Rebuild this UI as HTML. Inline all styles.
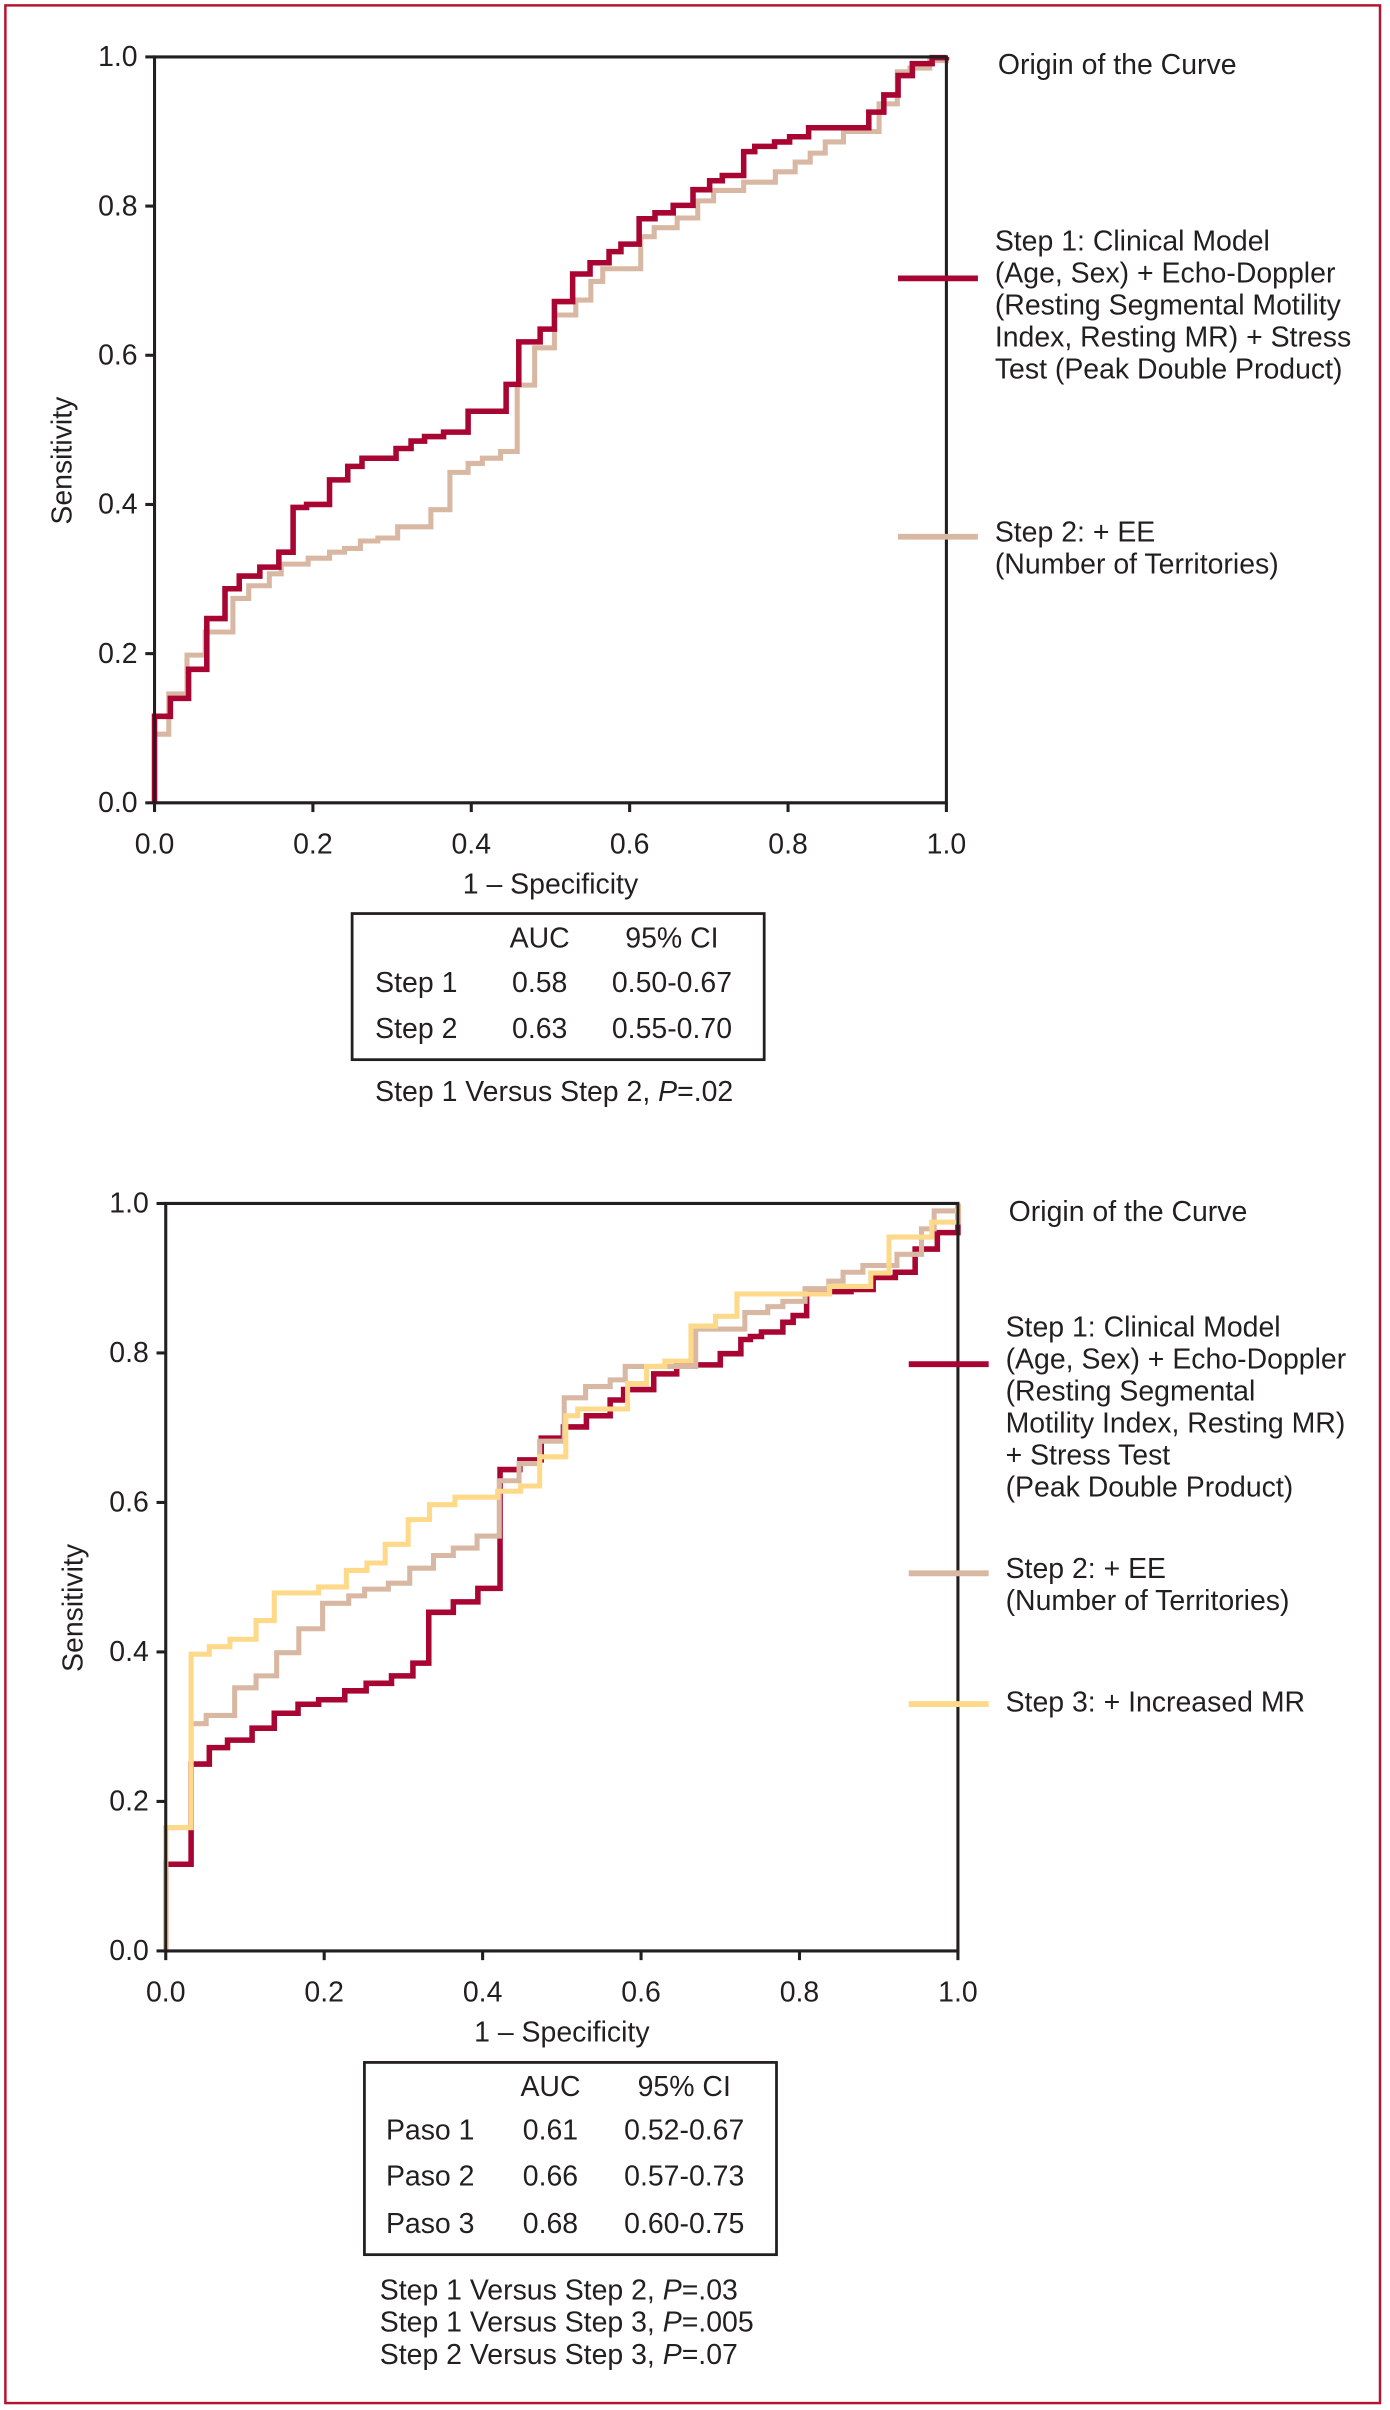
<!DOCTYPE html>
<html><head><meta charset="utf-8"><style>
html,body{margin:0;padding:0;background:#fff}
svg{display:block}
text{font-family:"Liberation Sans Narrow","Liberation Sans",sans-serif;fill:#231f20;font-size:18.5px}
</style></head><body>
<svg id="fig" width="1390" height="2410" viewBox="0 0 904 1567" preserveAspectRatio="none" xmlns="http://www.w3.org/2000/svg">
<rect x="3.5" y="3.5" width="894" height="1559" fill="none" stroke="#b5142e" stroke-width="1.6"/>
<g id="top"></g>
<g id="bot"></g>

<!-- top legend -->
<g>
<text x="649" y="48">Origin of the Curve</text>
<line x1="584" y1="181" x2="636" y2="181" stroke="#a80532" stroke-width="3.8"/>
<text x="647" y="163">
<tspan x="647" dy="0">Step 1: Clinical Model</tspan><tspan x="647" dy="20.8">(Age, Sex) + Echo-Doppler</tspan><tspan x="647" dy="20.8">(Resting Segmental Motility</tspan><tspan x="647" dy="20.8">Index, Resting MR) + Stress</tspan><tspan x="647" dy="20.8">Test (Peak Double Product)</tspan></text>
<line x1="584" y1="349" x2="636" y2="349" stroke="#d9b8a3" stroke-width="3.8"/>
<text x="647" y="352"><tspan x="647" dy="0">Step 2: + EE</tspan><tspan x="647" dy="20.8">(Number of Territories)</tspan></text>
</g>
<g>
<rect x="229" y="594" width="268" height="95" fill="none" stroke="#231f20" stroke-width="1.8"/>
<text x="351" y="616" text-anchor="middle">AUC</text><text x="437" y="616" text-anchor="middle">95% CI</text>
<text x="244" y="645">Step 1</text><text x="351" y="645" text-anchor="middle">0.58</text><text x="437" y="645" text-anchor="middle">0.50-0.67</text>
<text x="244" y="675">Step 2</text><text x="351" y="675" text-anchor="middle">0.63</text><text x="437" y="675" text-anchor="middle">0.55-0.70</text>
</g>
<text x="244" y="716">Step 1 Versus Step 2, <tspan font-style="italic">P</tspan>=.02</text>

<!-- bottom legend -->
<g>
<text x="656" y="794">Origin of the Curve</text>
<line x1="591" y1="887" x2="643" y2="887" stroke="#a80532" stroke-width="3.8"/>
<text x="654" y="869"><tspan x="654" dy="0">Step 1: Clinical Model</tspan><tspan x="654" dy="20.8">(Age, Sex) + Echo-Doppler</tspan><tspan x="654" dy="20.8">(Resting Segmental</tspan><tspan x="654" dy="20.8">Motility Index, Resting MR)</tspan><tspan x="654" dy="20.8">+ Stress Test</tspan><tspan x="654" dy="20.8">(Peak Double Product)</tspan></text>
<line x1="591" y1="1023" x2="643" y2="1023" stroke="#d9b8a3" stroke-width="3.8"/>
<text x="654" y="1026"><tspan x="654" dy="0">Step 2: + EE</tspan><tspan x="654" dy="20.8">(Number of Territories)</tspan></text>
<line x1="591" y1="1108" x2="643" y2="1108" stroke="#ffd98a" stroke-width="3.8"/>
<text x="654" y="1113">Step 3: + Increased MR</text>
</g>
<g>
<rect x="237" y="1341" width="268" height="125" fill="none" stroke="#231f20" stroke-width="1.8"/>
<text x="358" y="1363" text-anchor="middle">AUC</text><text x="445" y="1363" text-anchor="middle">95% CI</text>
<text x="251" y="1391">Paso 1</text><text x="358" y="1391" text-anchor="middle">0.61</text><text x="445" y="1391" text-anchor="middle">0.52-0.67</text>
<text x="251" y="1421">Paso 2</text><text x="358" y="1421" text-anchor="middle">0.66</text><text x="445" y="1421" text-anchor="middle">0.57-0.73</text>
<text x="251" y="1452">Paso 3</text><text x="358" y="1452" text-anchor="middle">0.68</text><text x="445" y="1452" text-anchor="middle">0.60-0.75</text>
</g>
<g>
<text x="247" y="1495">Step 1 Versus Step 2, <tspan font-style="italic">P</tspan>=.03</text>
<text x="247" y="1516">Step 1 Versus Step 3, <tspan font-style="italic">P</tspan>=.005</text>
<text x="247" y="1537">Step 2 Versus Step 3, <tspan font-style="italic">P</tspan>=.07</text>
</g>
</svg>
<script>
const tickLabels = ["0.0","0.2","0.4","0.6","0.8","1.0"];
const tickValues = [0,0.2,0.4,0.6,0.8,1.0];
// Top chart series (1-specificity, sensitivity step corners)
const topStep1X = [0,.02,.043,.066,.089,.107,.133,.157,.175,.192,.221,.244,.262,.305,.324,.341,.365,.396,.444,.460,.487,.505,.528,.550,.574,.589,.612,.632,.655,.680,.701,.717,.744,.758,.783,.802,.826,.902,.921,.939,.957,.982,1];
const topStep1Y = [.116,.14,.179,.247,.287,.304,.316,.336,.396,.400,.433,.451,.462,.475,.485,.491,.497,.525,.561,.618,.635,.672,.709,.724,.739,.749,.783,.791,.801,.822,.834,.841,.873,.880,.886,.893,.905,.926,.949,.975,.991,.999,1];
const topStep2X = [0,.018,.041,.064,.099,.119,.145,.160,.194,.221,.240,.260,.282,.307,.349,.373,.396,.414,.437,.458,.480,.505,.532,.551,.566,.614,.631,.660,.686,.706,.744,.784,.809,.828,.847,.870,.915,.938,.954,.979,1];
const topStep2Y = [.092,.146,.198,.229,.274,.291,.307,.320,.328,.336,.341,.351,.355,.370,.393,.443,.455,.462,.471,.560,.610,.654,.674,.699,.716,.759,.771,.784,.807,.821,.832,.846,.859,.871,.886,.900,.937,.980,.985,.995,1];
// Bottom chart series
const botStep1X = [0,.032,.055,.078,.109,.137,.167,.193,.226,.253,.285,.312,.332,.363,.394,.422,.447,.474,.502,.531,.561,.578,.616,.645,.700,.726,.738,.752,.779,.792,.809,.865,.893,.921,.946,.974,1];
const botStep1Y = [.116,.250,.272,.282,.298,.318,.330,.336,.348,.358,.368,.385,.453,.467,.485,.644,.657,.686,.701,.716,.737,.751,.772,.784,.799,.818,.822,.828,.841,.850,.882,.885,.901,.908,.939,.961,1];
const botStep2X = [0,.032,.051,.087,.114,.140,.168,.198,.231,.251,.281,.308,.338,.363,.393,.421,.446,.472,.503,.530,.561,.580,.669,.731,.760,.779,.807,.837,.855,.880,.923,.954,.970,1];
const botStep2Y = [.165,.304,.315,.352,.368,.399,.431,.465,.475,.484,.492,.512,.529,.539,.555,.629,.652,.682,.740,.755,.764,.782,.832,.854,.862,.869,.886,.896,.908,.917,.932,.966,.990,1];
const botStep3X = [0,.032,.055,.081,.114,.137,.193,.228,.254,.277,.306,.333,.365,.419,.448,.472,.505,.520,.583,.607,.630,.663,.694,.721,.838,.890,.913,.967,1];
const botStep3Y = [.165,.397,.407,.417,.442,.479,.487,.509,.519,.544,.577,.597,.607,.615,.622,.661,.716,.725,.759,.782,.789,.836,.849,.879,.889,.907,.955,.975,1];

const NS="http://www.w3.org/2000/svg";
function mk(tag,attrs,parent){const e=document.createElementNS(NS,tag);for(const k in attrs)e.setAttribute(k,attrs[k]);parent.appendChild(e);return e;}

function chart(g,L,R,T,B,series){
  const sx=v=>L+(R-L)*v, sy=v=>B-(B-T)*v;
  series.forEach(s=>{
    let d="M"+sx(s.x[0])+","+sy(0);
    for(let i=0;i<s.x.length;i++){
      if(i>0)d+=" H"+sx(s.x[i]);
      d+=" V"+sy(s.y[i]);
    }
    const p=mk("path",{d:d,fill:"none",stroke:s.c,"stroke-width":s.w,"stroke-linejoin":"miter","stroke-linecap":"butt"},g);
    
    
  });
  const ax=mk("path",{d:`M${L},${T} H${R} V${B} H${L} Z`,fill:"none",stroke:"#231f20","stroke-width":2},g);
  
  
  tickValues.forEach((v,i)=>{
    const t1=mk("line",{x1:L-6,x2:L,y1:sy(v),y2:sy(v),stroke:"#231f20","stroke-width":2},g);
    
    
    const l1=mk("text",{x:L-11,y:sy(v)+6,"text-anchor":"end"},g);l1.textContent=tickLabels[i];
    
    
    const t2=mk("line",{x1:sx(v),x2:sx(v),y1:B,y2:B+6,stroke:"#231f20","stroke-width":2},g);
    
    
    const l2=mk("text",{x:sx(v),y:B+33,"text-anchor":"middle"},g);l2.textContent=tickLabels[i];
    
    
  });
  const xt=mk("text",{x:(L+R)/2,y:B+59,"text-anchor":"middle"},g);xt.textContent="1 – Specificity";
  
  
  const cy=(T+B)/2+20, cx=L-54;
  const yt=mk("text",{x:cx,y:cy,"text-anchor":"middle",transform:`rotate(-90 ${cx} ${cy})`},g);yt.textContent="Sensitivity";
  
  
}
chart(document.getElementById("top"),100.5,615.5,37,522,[
  {x:topStep2X,y:topStep2Y,c:"#d9b8a3",w:3.3,n:"curve-step2"},
  {x:topStep1X,y:topStep1Y,c:"#a80532",w:3.6,n:"curve-step1"}]);
chart(document.getElementById("bot"),107.8,623,782.5,1268.5,[
  {x:botStep1X,y:botStep1Y,c:"#a80532",w:3.6,n:"curve-step1"},
  {x:botStep2X,y:botStep2Y,c:"#d9b8a3",w:3.3,n:"curve-step2"},
  {x:botStep3X,y:botStep3Y,c:"#ffd98a",w:3.3,n:"curve-step3"}]);
</script>
</body></html>
